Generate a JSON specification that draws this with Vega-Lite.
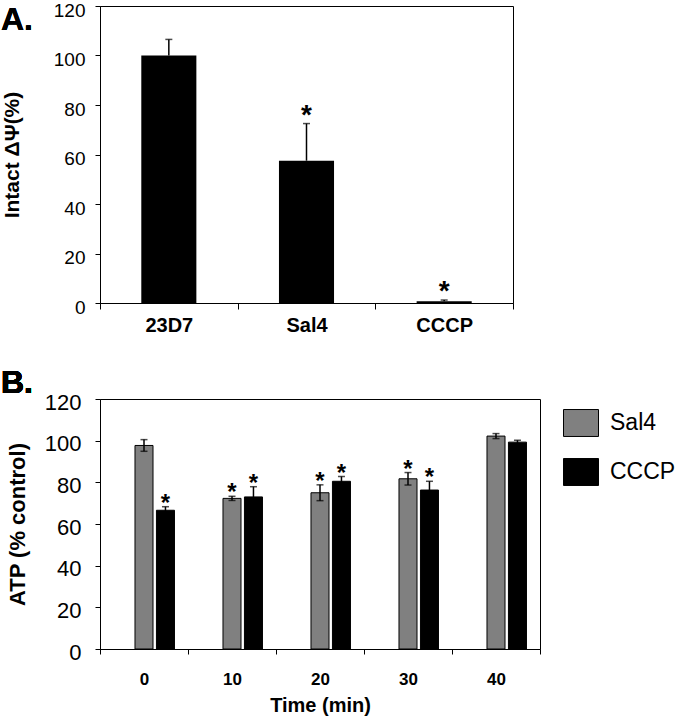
{
  "$schema": "https://vega.github.io/schema/vega-lite/v6.json",
  "padding": 0,
  "config": {
    "font": "Liberation Sans",
    "view": {"stroke": "#000", "strokeWidth": 1},
    "axis": {"domainColor": "#000", "tickColor": "#000", "labelColor": "#000", "titleColor": "#000", "grid": false, "domainWidth": 1, "tickWidth": 1}
  },
  "bounds": "flush",
  "spacing": 96,
  "resolve": {"scale": {"x": "independent", "y": "independent", "color": "independent"}, "legend": {"color": "independent"}},
  "vconcat": [
    {
      "width": 413,
      "height": 297,
      "data": {"values": [
        {"strain": "23D7", "mean": 100, "hi": 106.5, "sig": ""},
        {"strain": "Sal4", "mean": 57.5, "hi": 72.5, "sig": "*"},
        {"strain": "CCCP", "mean": 0.7, "hi": 1.2, "sig": "*"}
      ]},
      "encoding": {
        "x": {"field": "strain", "type": "nominal", "sort": null, "scale": {"paddingInner": 0, "paddingOuter": 0},
          "axis": {"title": null, "labelAngle": 0, "labelFontSize": 20, "labelFontWeight": "bold", "tickBand": "extent", "tickSize": 6, "labelPadding": 6}}
      },
      "layer": [
        {"mark": {"type": "bar", "width": {"band": 0.4}, "color": "#000"},
          "encoding": {"y": {"field": "mean", "type": "quantitative", "scale": {"domain": [0, 120]},
            "axis": {"values": [0, 20, 40, 60, 80, 100, 120], "title": "Intact ΔΨ(%)", "titleFontSize": 21, "titleFontWeight": "bold", "labelFontSize": 19, "labelOffset": 4, "tickSize": 5, "labelPadding": 10, "titlePadding": 31}}}},
        {"mark": {"type": "rule", "color": "#000", "strokeWidth": 1.5},
          "encoding": {"y": {"field": "mean", "type": "quantitative"}, "y2": {"field": "hi"}}},
        {"mark": {"type": "tick", "color": "#000", "size": 7, "thickness": 1.5},
          "encoding": {"y": {"field": "hi", "type": "quantitative"}}},
        {"mark": {"type": "text", "fontSize": 28, "fontWeight": "bold", "baseline": "alphabetic", "dy": 0, "color": "#000"},
          "encoding": {"y": {"field": "hi", "type": "quantitative"}, "text": {"field": "sig"}}},
        {"mark": {"type": "text", "text": "A.", "fontSize": 32, "fontWeight": "bold", "align": "left", "baseline": "alphabetic", "dx": -99, "dy": 24, "color": "#000"},
          "encoding": {"x": {"datum": "23D7", "bandPosition": 0}, "y": {"datum": 120}}}
      ]
    },
    {
      "width": 440,
      "height": 250,
      "data": {"values": [
        {"time": "0", "series": "Sal4", "mean": 97.7, "lo": 94.9, "hi": 100.5, "sig": ""},
        {"time": "0", "series": "CCCP", "mean": 66.6, "lo": 64.9, "hi": 68.3, "sig": "*"},
        {"time": "10", "series": "Sal4", "mean": 72.3, "lo": 71.3, "hi": 73.3, "sig": "*"},
        {"time": "10", "series": "CCCP", "mean": 73.0, "lo": 68.1, "hi": 77.9, "sig": "*"},
        {"time": "20", "series": "Sal4", "mean": 75.0, "lo": 71.2, "hi": 78.8, "sig": "*"},
        {"time": "20", "series": "CCCP", "mean": 80.5, "lo": 78.2, "hi": 82.8, "sig": "*"},
        {"time": "30", "series": "Sal4", "mean": 81.7, "lo": 78.7, "hi": 84.7, "sig": "*"},
        {"time": "30", "series": "CCCP", "mean": 76.3, "lo": 72.1, "hi": 80.5, "sig": "*"},
        {"time": "40", "series": "Sal4", "mean": 102.2, "lo": 101.0, "hi": 103.4, "sig": ""},
        {"time": "40", "series": "CCCP", "mean": 99.3, "lo": 98.4, "hi": 100.2, "sig": ""}
      ]},
      "encoding": {
        "x": {"field": "time", "type": "nominal", "sort": null, "scale": {"paddingInner": 0, "paddingOuter": 0},
          "axis": {"title": "Time (min)", "titleFontSize": 20, "titleFontWeight": "bold", "titlePadding": 8, "labelAngle": 0, "labelFontSize": 17, "labelFontWeight": "bold", "tickBand": "extent", "tickSize": 5, "labelPadding": 17}},
        "xOffset": {"field": "series", "type": "nominal", "scale": {"domain": ["_", "Sal4", "CCCP"], "paddingInner": 0.16, "paddingOuter": 0.63}}
      },
      "layer": [
        {"mark": {"type": "bar", "stroke": "#000", "strokeWidth": 1},
          "encoding": {
            "y": {"field": "mean", "type": "quantitative", "scale": {"domain": [0, 120]},
              "axis": {"values": [0, 20, 40, 60, 80, 100, 120], "title": "ATP (% control)", "titleFontSize": 22, "titleFontWeight": "bold", "labelFontSize": 22, "labelOffset": 3, "tickSize": 5, "labelPadding": 14, "titlePadding": 15}},
            "color": {"field": "series", "type": "nominal", "scale": {"domain": ["Sal4", "CCCP"], "range": ["#808080", "#000000"]},
              "legend": {"title": null, "orient": "none", "legendX": 463, "legendY": 6, "padding": 0, "symbolType": "M-1,-0.77H1V0.77H-1Z", "symbolSize": 1225, "symbolStrokeColor": "#000", "symbolStrokeWidth": 1, "symbolOpacity": 1, "labelFontSize": 23, "labelColor": "#000", "labelOffset": 11, "rowPadding": 15}}
          }},
        {"mark": {"type": "rule", "color": "#000", "strokeWidth": 1.5},
          "encoding": {"y": {"field": "lo", "type": "quantitative"}, "y2": {"field": "hi"}}},
        {"mark": {"type": "tick", "color": "#000", "size": 7, "thickness": 1.5},
          "encoding": {"y": {"field": "hi", "type": "quantitative"}}},
        {"mark": {"type": "tick", "color": "#000", "size": 7, "thickness": 1.5},
          "encoding": {"y": {"field": "lo", "type": "quantitative"}}},
        {"mark": {"type": "text", "fontSize": 24, "fontWeight": "bold", "baseline": "alphabetic", "dy": 4, "color": "#000"},
          "encoding": {"y": {"field": "hi", "type": "quantitative"}, "text": {"field": "sig"}}},
        {"mark": {"type": "text", "text": "B.", "fontSize": 32, "fontWeight": "bold", "align": "left", "baseline": "alphabetic", "dx": -99, "dy": -6, "color": "#000"},
          "encoding": {"x": {"datum": "0", "bandPosition": 0}, "y": {"datum": 120}, "xOffset": {"value": 0}}}
      ]
    }
  ]
}
